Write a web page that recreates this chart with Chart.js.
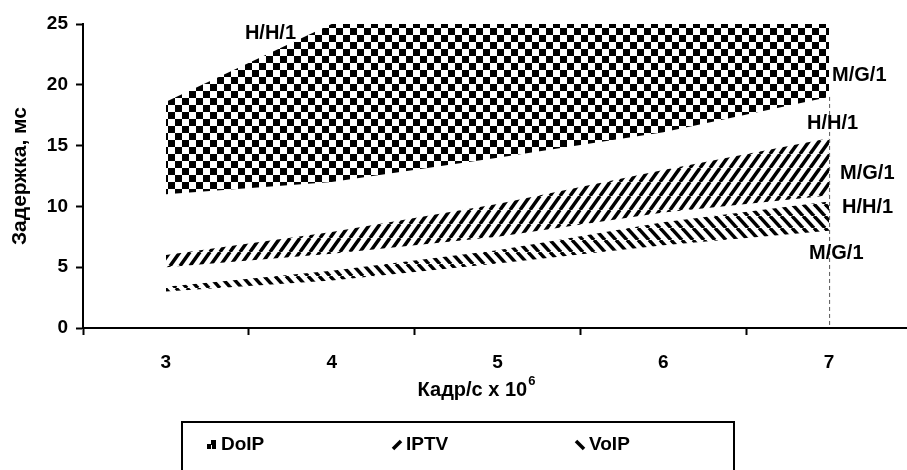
<!DOCTYPE html>
<html><head><meta charset="utf-8">
<style>
html,body{margin:0;padding:0;overflow:hidden;background:#fff;width:907px;height:470px}
#wrap{position:absolute;left:0;top:0;width:912px;height:470px}
</style>
<script src="https://cdn.jsdelivr.net/npm/chart.js@4/dist/chart.umd.min.js"></script>
</head><body><div id="wrap"><canvas id="c" width="912" height="470"></canvas></div>
<script>
// ---- data ----
const categories = ['3', '4', '5', '6', '7'];
const doipHigh = [18.6, 25.0, 25.0, 25.0, 25.0];
const doipLow  = [11.0, 12.0, 14.0, 16.1, 19.0];
const iptvHigh = [6.0, 7.9, 10.2, 13.0, 15.6];
const iptvLow  = [5.0, 6.1, 7.5, 9.5, 10.9];
const voipHigh = [3.4, 4.7, 6.4, 8.7, 10.4];
const voipLow  = [3.0, 3.9, 5.3, 6.8, 8.0];
const seriesNames = ['DoIP', 'IPTV', 'VoIP'];
const modelLabels = ['H/H/1', 'M/G/1', 'H/H/1', 'M/G/1', 'H/H/1', 'M/G/1'];
const yAxisTitle = 'Задержка, мс';
const xAxisTitle = 'Кадр/с x 10';
const xAxisTitleSup = '6';

const FONT = '"Liberation Sans", Arial, sans-serif';

function makeChecker(cell) {
  const c = document.createElement('canvas');
  c.width = cell * 2; c.height = cell * 2;
  const g = c.getContext('2d');
  g.fillStyle = '#fff'; g.fillRect(0, 0, c.width, c.height);
  g.fillStyle = '#000';
  g.fillRect(0, 0, cell, cell);
  g.fillRect(cell, cell, cell, cell);
  return g.createPattern(c, 'repeat');
}
function makeHatch(w, h, lw, dir) {
  const c = document.createElement('canvas');
  c.width = w; c.height = h;
  const g = c.getContext('2d');
  g.fillStyle = '#fff'; g.fillRect(0, 0, w, h);
  g.strokeStyle = '#000'; g.lineWidth = lw;
  for (const o of [-w, 0, w]) {
    g.beginPath();
    if (dir > 0) { g.moveTo(o, h); g.lineTo(o + w, 0); }
    else { g.moveTo(o, 0); g.lineTo(o + w, h); }
    g.stroke();
  }
  return g.createPattern(c, 'repeat');
}
const checker = makeChecker(7);
const hatchFwd = makeHatch(10, 14, 3.5, 1);
const hatchBack = makeHatch(11, 12, 3.5, -1);

function ds(label, data, fill, bg) {
  return { label, data, fill, backgroundColor: bg || 'transparent',
    borderColor: 'rgba(0,0,0,0)', borderWidth: 0, pointRadius: 0, pointHoverRadius: 0, tension: 0 };
}

function drawSwatch(ctx, i, x, y) {
  ctx.save();
  ctx.fillStyle = '#000'; ctx.strokeStyle = '#000';
  if (i === 0) {
    ctx.fillRect(x + 4, y, 5, 5);
    ctx.fillRect(x, y + 4, 4, 5);
    ctx.fillRect(x + 5, y + 5, 4, 4);
  } else {
    ctx.lineWidth = 3.5;
    ctx.beginPath();
    if (i === 1) { ctx.moveTo(x + 1, y + 9); ctx.lineTo(x + 9, y + 1); }
    else { ctx.moveTo(x + 1, y + 1); ctx.lineTo(x + 9, y + 9); }
    ctx.stroke();
  }
  ctx.restore();
}

const overlay = {
  id: 'overlay',
  afterDatasetsDraw(chart) {
    const { ctx, scales: { x, y } } = chart;
    const x7 = x.getPixelForValue(4);
    ctx.save();
    // dashed drop line at last category
    ctx.strokeStyle = '#555'; ctx.lineWidth = 1; ctx.setLineDash([4, 3]);
    ctx.beginPath(); ctx.moveTo(x7 + 0.5, y.getPixelForValue(doipLow[4])); ctx.lineTo(x7 + 0.5, y.getPixelForValue(0)); ctx.stroke();
    ctx.setLineDash([]);
    ctx.fillStyle = '#000';
    // model labels
    ctx.font = 'bold 20px ' + FONT;
    ctx.textBaseline = 'middle'; ctx.textAlign = 'left';
    const x3 = x.getPixelForValue(0);
    ctx.fillText(modelLabels[0], x3 + 79, y.getPixelForValue(24.2));
    ctx.fillText(modelLabels[1], x7 + 3, y.getPixelForValue(20.8));
    ctx.fillText(modelLabels[2], x7 - 22, y.getPixelForValue(16.8));
    ctx.fillText(modelLabels[3], x7 + 11, y.getPixelForValue(12.7));
    ctx.fillText(modelLabels[4], x7 + 13, y.getPixelForValue(9.9));
    ctx.fillText(modelLabels[5], x7 - 20, y.getPixelForValue(6.1));
    // y title
    ctx.font = 'bold 21px ' + FONT;
    ctx.save();
    ctx.translate(20, (y.top + y.bottom) / 2);
    ctx.rotate(-Math.PI / 2);
    ctx.textAlign = 'center';
    ctx.fillText(yAxisTitle, 0, 0);
    ctx.restore();
    // x title with superscript
    ctx.font = 'bold 20px ' + FONT;
    const w1 = ctx.measureText(xAxisTitle).width;
    ctx.font = 'bold 13px ' + FONT;
    const w2 = ctx.measureText(xAxisTitleSup).width;
    const cx = 476, sx = cx - (w1 + w2) / 2;
    ctx.textAlign = 'left';
    ctx.font = 'bold 20px ' + FONT;
    ctx.fillText(xAxisTitle, sx, 390);
    ctx.font = 'bold 13px ' + FONT;
    ctx.fillText(xAxisTitleSup, sx + w1 + 1, 381);
    // legend
    ctx.lineWidth = 2; ctx.strokeStyle = '#000';
    ctx.strokeRect(182, 422, 552, 70);
    const lx = [207, 392, 575];
    ctx.font = 'bold 19px ' + FONT;
    for (let i = 0; i < 3; i++) {
      drawSwatch(ctx, i, lx[i], 440);
      ctx.fillStyle = '#000';
      ctx.fillText(seriesNames[i], lx[i] + 14, 445);
    }
    ctx.restore();
  }
};

new Chart(document.getElementById('c'), {
  type: 'line',
  data: {
    labels: categories,
    datasets: [
      ds(seriesNames[0], doipHigh, '+1', checker),
      ds(seriesNames[0] + ' low', doipLow, false),
      ds(seriesNames[1], iptvHigh, '+1', hatchFwd),
      ds(seriesNames[1] + ' low', iptvLow, false),
      ds(seriesNames[2], voipHigh, '+1', hatchBack),
      ds(seriesNames[2] + ' low', voipLow, false)
    ]
  },
  options: {
    responsive: false,
    animation: false,
    events: [],
    layout: { padding: { top: 24, right: 0, bottom: 92, left: 0 } },
    plugins: { legend: { display: false }, tooltip: { enabled: false } },
    scales: {
      x: {
        offset: true,
        grid: { offset: true, drawOnChartArea: false, tickLength: 7, tickWidth: 2, tickColor: '#000' },
        border: { display: true, color: '#000', width: 2 },
        ticks: { color: '#000', font: { family: FONT, size: 19, weight: 'bold' }, padding: 16, maxRotation: 0 },
        afterFit(s) { s.height = 50; }
      },
      y: {
        min: 0, max: 25,
        grid: { drawOnChartArea: false, tickLength: 7, tickWidth: 2, tickColor: '#000' },
        border: { display: true, color: '#000', width: 2 },
        ticks: { stepSize: 5, color: '#000', font: { family: FONT, size: 19, weight: 'bold' }, padding: 8 },
        afterFit(s) { s.width = 83; }
      }
    }
  },
  plugins: [overlay]
});
</script>
</body></html>
